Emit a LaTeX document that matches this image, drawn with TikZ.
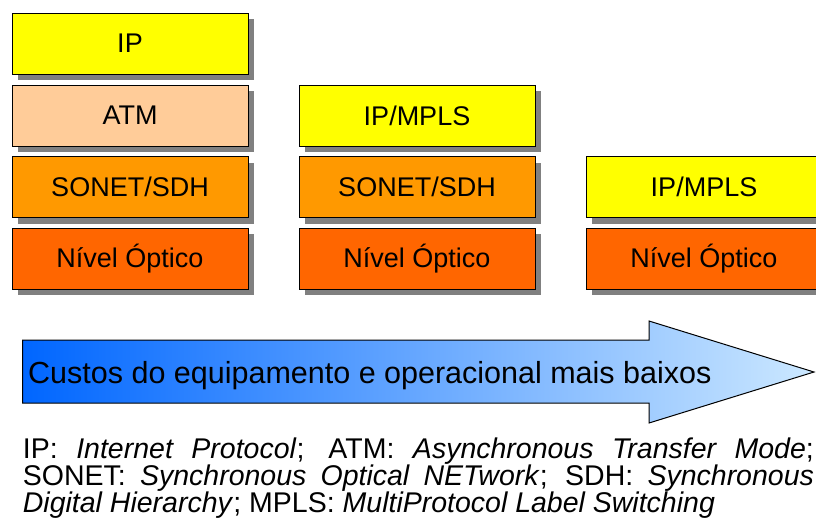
\documentclass[tikz,border=0pt]{standalone}
\usepackage{fontspec}
\setmainfont{Liberation Sans}
\usetikzlibrary{shadows}
\definecolor{cIP}{RGB}{255,255,0}
\definecolor{cATM}{RGB}{255,204,153}
\definecolor{cSON}{RGB}{255,153,0}
\definecolor{cOPT}{RGB}{255,102,0}
\definecolor{cShadow}{RGB}{128,128,128}
\definecolor{arrL}{RGB}{0,102,255}
\definecolor{arrR}{RGB}{204,232,255}
\tikzset{
  layer/.style={draw=black, line width=1pt, minimum width=236pt, minimum height=61pt,
    inner sep=0pt, font=\fontsize{27}{30}\selectfont,
    drop shadow={shadow xshift=6pt, shadow yshift=-6pt, fill=cShadow, opacity=1}},
}
\begin{document}
\begin{tikzpicture}[x=1pt,y=-1pt]
\useasboundingbox (0,0) rectangle (816,531);
% column 1
\node[layer, fill=cIP]  (ip1)  at (130,43.5) {IP};
\node[layer, fill=cATM] (atm1) at (130,115.5) {ATM};
\node[layer, fill=cSON] (son1) at (130,187) {SONET/SDH};
\node[layer, fill=cOPT] (opt1) at (130,258.5) {Nível Óptico};
% column 2
\node[layer, fill=cIP]  (mpls2) at (417,115.5) {IP/MPLS};
\node[layer, fill=cSON] (son2)  at (417,187) {SONET/SDH};
\node[layer, fill=cOPT] (opt2)  at (417,258.5) {Nível Óptico};
% column 3
\node[layer, fill=cIP]  (mpls3) at (704,187) {IP/MPLS};
\node[layer, fill=cOPT] (opt3)  at (704,258.5) {Nível Óptico};
% arrow
\path[draw=black, line width=1pt, left color=arrL, right color=arrR]
  (22.5,340) -- (649,340) -- (649,321) -- (814,372) -- (649,423) -- (649,403) -- (22.5,403) -- cycle;
\node[anchor=base west, inner sep=0pt, font=\fontsize{30.5}{33}\selectfont] (cost) at (28,383)
  {Custos do equipamento e operacional mais baixos};
% legend
\node[anchor=base west, inner sep=0pt] (legend) at (22.7,458)
  {\parbox[t]{791pt}{\fontsize{28.5}{27}\selectfont\hyphenpenalty=10000
  IP: \textit{Internet Protocol}; ATM: \textit{Asynchronous Transfer Mode};\linebreak
  SONET: \textit{Synchronous Optical NETwork}; SDH: \textit{Synchronous}\linebreak
  \textit{Digital Hierarchy}; MPLS: \textit{MultiProtocol Label Switching}}};
\end{tikzpicture}
\end{document}
